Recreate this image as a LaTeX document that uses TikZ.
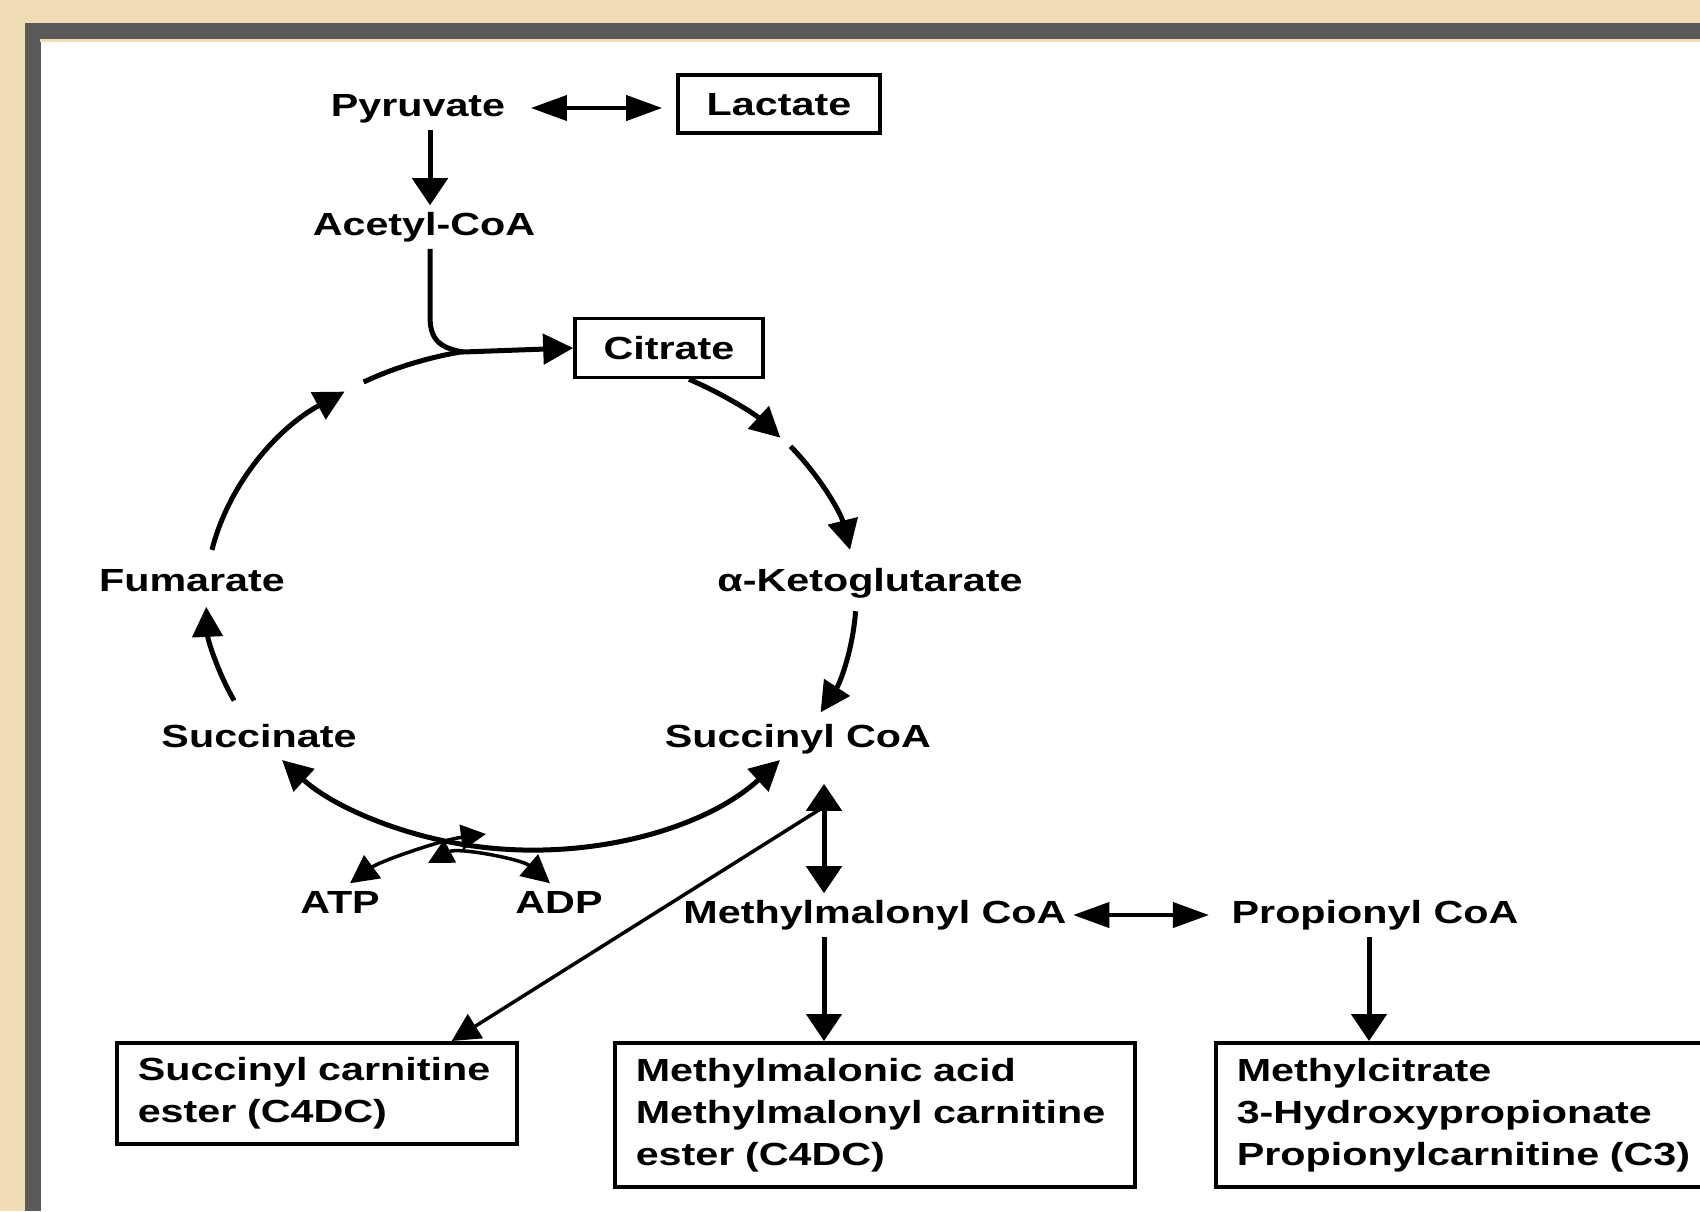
\documentclass[tikz,border=0pt]{standalone}
\usepackage{fontspec}
\setmainfont{Liberation Sans}[FakeStretch=1.29]
\usetikzlibrary{arrows.meta}
\definecolor{parch}{RGB}{240,221,182}
\definecolor{framegray}{RGB}{90,90,90}
\newcommand{\lblfont}{\fontsize{9.1}{11.95}\selectfont\bfseries}

\begin{document}
\begin{tikzpicture}[x=0.01cm,y=-0.01cm,
  lbl/.style={font=\lblfont, inner sep=0.06cm, text height=0.234cm, text depth=0.067cm},
  pbox/.style={lbl, draw, line width=0.035cm, text depth=0cm},
  resbox/.style={font=\lblfont, draw, line width=0.035cm, anchor=north west,
    align=left, inner xsep=0.21cm, inner ysep=0.08cm},
  flow/.style={line width=0.05cm, -{Triangle[length=0.3cm,width=0.3cm]}},
  both/.style={line width=0.05cm, {Triangle[length=0.3cm,width=0.3cm]}-{Triangle[length=0.3cm,width=0.3cm]}},
  vflow/.style={line width=0.05cm, -{Triangle[length=0.27cm,width=0.35cm]}},
  vboth/.style={line width=0.05cm, {Triangle[length=0.27cm,width=0.35cm]}-{Triangle[length=0.27cm,width=0.35cm]}},
  hboth/.style={line width=0.04cm, {Triangle[length=0.36cm,width=0.25cm]}-{Triangle[length=0.36cm,width=0.25cm]}},
  thinflow/.style={line width=0.035cm, -{Triangle[length=0.28cm,width=0.28cm]}},
  thinboth/.style={line width=0.035cm, {Triangle[length=0.25cm,width=0.25cm]}-{Triangle[length=0.28cm,width=0.28cm]}},
  cycline/.style={line width=0.05cm}]
\useasboundingbox (0,0) rectangle (1700,1211);
\clip (0,0) rectangle (1700,1211);

% page and frame
\fill[parch] (0,0) rectangle (1700,1211);
\fill[framegray] (25,23) rectangle (1700,1211);
\fill[parch] (40,39) rectangle (1700,42);
\fill[white] (41,42) rectangle (1700,1211);

% metabolites
\node[lbl] (pyr) at (418,108) {Pyruvate};
\node[pbox, minimum width=2.02cm, minimum height=0.58cm] (lac) at (779,104) {Lactate};
\node[lbl] (acoa) at (424,227) {Acetyl-CoA};
\node[pbox, minimum width=1.88cm, minimum height=0.59cm] (cit) at (669,348) {Citrate};
\node[lbl] (fum) at (192,583) {Fumarate};
\node[lbl] (akg) at (870,583) {α-Ketoglutarate};
\node[lbl] (suc) at (259,739) {Succinate};
\node[lbl] (scoa) at (798,739) {Succinyl CoA};
\node[lbl] (atp) at (340,905) {ATP};
\node[lbl] (adp) at (559,905) {ADP};
\node[lbl] (mmcoa) at (875,915) {Methylmalonyl CoA};
\node[lbl] (pcoa) at (1375,915) {Propionyl CoA};

% result boxes
\node[resbox, text width=3.58cm, minimum height=1.01cm] (b1) at (115,1041)
  {Succinyl carnitine\\ester (C4DC)};
\node[resbox, text width=4.78cm, minimum height=1.44cm] (b2) at (613,1041)
  {Methylmalonic acid\\Methylmalonyl carnitine\\ester (C4DC)};
\node[resbox, text width=4.6cm, minimum height=1.44cm] (b3) at (1214,1041)
  {Methylcitrate\\3-Hydroxypropionate\\Propionylcarnitine (C3)};

% helper points
\coordinate (cyc) at (531,598);
\coordinate (ax) at (430,0);
\coordinate (mx) at (824,0);
\coordinate (px) at (1369,0);
\coordinate (jn) at (463,352);
\coordinate (br) at (822,808);
\coordinate (xa) at (486,834);
\coordinate (xb) at (428,863);

% top
\draw[hboth, shorten <=0.19cm, shorten >=0.14cm] (pyr.east) -- (lac.west |- pyr.east);
\draw[vflow] (pyr.south -| ax) -- (acoa.north -| ax);
\draw[cycline] (acoa.south -| ax) -- ++(0,68) .. controls +(0,24) and +(-22,-4) .. (jn);
\draw[flow] (jn) -- (cit.west);

% cycle
\draw[flow] (cit.south -| 689,0) arc[start angle=299, end angle=320, x radius=325, y radius=252];
\draw[flow] ([shift={(323:325 and 252)}]cyc) arc[start angle=323, end angle=349, x radius=325, y radius=252];
\draw[flow] ([shift={(3:325 and 252)}]cyc) arc[start angle=3, end angle=27, x radius=325, y radius=252];
\draw[both] ([shift={(40:325 and 252)}]cyc) arc[start angle=40, end angle=140, x radius=325, y radius=252];
\draw[flow] ([shift={(156:325 and 252)}]cyc) arc[start angle=156, end angle=178, x radius=325, y radius=252];
\draw[flow] ([shift={(191:325 and 252)}]cyc) arc[start angle=191, end angle=235, x radius=325, y radius=252];
\draw[cycline] ([shift={(239:325 and 252)}]cyc) arc[start angle=239, end angle=258, x radius=325, y radius=252];

% ATP / ADP
\draw[thinboth] (xa) .. controls +(-45,6) and +(30,-22) .. ([xshift=0.1cm]atp.north);
\draw[thinboth] (xb) .. controls +(30,-16) and +(-28,-24) .. ([xshift=-0.09cm]adp.north);

% propionate branch
\draw[vboth, shorten <=0.23cm] (scoa.south -| mx) -- (mmcoa.north -| mx);
\draw[thinflow] (br) -- ([xshift=-0.67cm]b1.north east);
\draw[hboth, shorten >=0.16cm] (mmcoa.east) -- (pcoa.west);
\draw[vflow] (mmcoa.south -| mx) -- (b2.north -| mx);
\draw[vflow] (pcoa.south -| px) -- (b3.north -| px);
\end{tikzpicture}
\end{document}
